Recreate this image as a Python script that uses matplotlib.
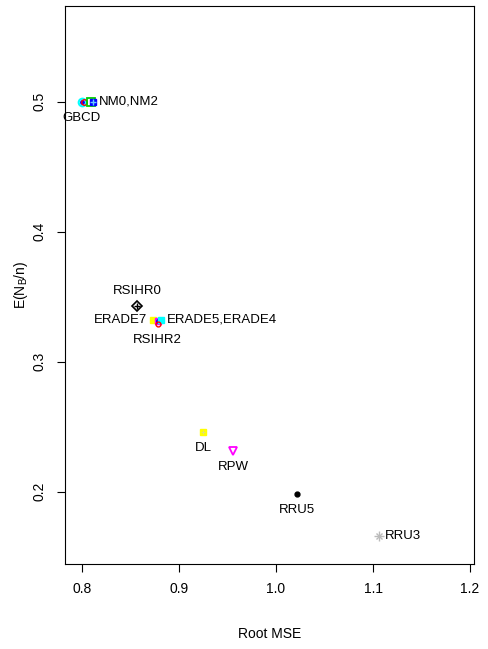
import numpy as np
import matplotlib.pyplot as plt

plt.rcParams['font.family'] = ['Liberation Sans', 'DejaVu Sans']

# Points (one per design)
methods = ['GBCD', 'GBCD', 'GBCD', 'NM0', 'NM2', 'RSIHR0', 'ERADE7', 'ERADE5',
           'ERADE4', 'RSIHR2', 'DL', 'RPW', 'RRU5', 'RRU3']
root_mse = [0.800, 0.800, 0.802, 0.809, 0.811, 0.857, 0.873, 0.878,
            0.881, 0.878, 0.925, 0.956, 1.022, 1.106]
e_nb = [0.500, 0.500, 0.500, 0.500, 0.500, 0.343, 0.332, 0.331,
        0.332, 0.329, 0.246, 0.231, 0.198, 0.166]

# Text labels placed next to groups of points
labels = ['GBCD', 'NM0,NM2', 'RSIHR0', 'ERADE7', 'ERADE5,ERADE4', 'RSIHR2',
          'DL', 'RPW', 'RRU5', 'RRU3']
label_at = ['GBCD', 'NM2', 'RSIHR0', 'ERADE7', 'ERADE4', 'RSIHR2',
            'DL', 'RPW', 'RRU5', 'RRU3']
label_pos = [1, 4, 3, 2, 4, 1, 1, 1, 1, 4]  # R style: 1 below, 2 left, 3 above, 4 right

styles = [
    dict(marker='o', mfc='none', mec='cyan', ms=5.5, mew=1.5),
    dict(marker='o', mfc='blue', mec='blue', ms=2.5),
    dict(marker='o', mfc='none', mec='red', ms=4, mew=1),
    dict(marker='s', mfc='none', mec='#00cc00', ms=5.5, mew=1.3),
    dict(marker='s', mfc='blue', mec='blue', ms=4),
    dict(marker='D', mfc='none', mec='black', ms=5.5, mew=1.2),
    dict(marker='s', mfc='yellow', mec='yellow', ms=5),
    dict(marker='s', mfc='magenta', mec='magenta', ms=5),
    dict(marker='s', mfc='cyan', mec='cyan', ms=4),
    dict(marker='o', mfc='none', mec='red', ms=3.5, mew=1),
    dict(marker='s', mfc='yellow', mec='yellow', ms=5),
    dict(marker='v', mfc='none', mec='magenta', ms=6, mew=1.3),
    dict(marker='o', mfc='black', mec='black', ms=3.5),
    dict(marker='+', mfc='#bbbbbb', mec='#bbbbbb', ms=7, mew=1),
]

fig = plt.figure(figsize=(4.89, 6.49), dpi=100)
ax = fig.add_axes([65 / 489, 85 / 649, 409 / 489, 558 / 649])

for m, x, y, st in zip(methods, root_mse, e_nb, styles):
    ax.plot(x, y, linestyle='none', **st)
    # inner decorations (plus signs inside some markers)
    if m in ('NM2', 'RSIHR0'):
        ax.plot(x, y, linestyle='none', marker='+', ms=4.5, mew=1,
                color='#66ccff' if m == 'NM2' else 'black')
    if m == 'ERADE5':
        ax.plot(x, y, linestyle='none', marker='o', ms=2.5, color='blue')
    if m == 'DL':
        ax.plot(x, y, linestyle='none', marker='+', ms=3, mew=0.6, color='#dddd88')
    if m == 'RRU3':
        ax.plot(x, y, linestyle='none', marker='x', ms=5, mew=1, color='#bbbbbb')

offsets = {1: (0, -16, 'center', 'center'), 2: (-6, 0, 'right', 'center'),
           3: (0, 15, 'center', 'center'), 4: (6, 0, 'left', 'center')}
for lab, at, pos in zip(labels, label_at, label_pos):
    i = methods.index(at)
    dx, dy, ha, va = offsets[pos]
    ax.annotate(lab, (root_mse[i], e_nb[i]), xytext=(dx, dy),
                textcoords='offset pixels', ha=ha, va=va, fontsize=9.5)

ax.set_xlim(0.7825, 1.204)
ax.set_ylim(0.1443, 0.5735)
ax.set_xticks([0.8, 0.9, 1.0, 1.1, 1.2])
ax.set_xticklabels(['0.8', '0.9', '1.0', '1.1', '1.2'])
ax.set_yticks([0.2, 0.3, 0.4, 0.5])
ax.set_yticklabels(['0.2', '0.3', '0.4', '0.5'], rotation=90, va='center')
ax.tick_params(direction='out', length=6, width=0.8, labelsize=10, pad=7)
for s in ax.spines.values():
    s.set_linewidth(0.8)

ax.set_xlabel('Root MSE', fontsize=10, labelpad=22)
ax.set_ylabel(r'E(N$_\mathregular{B}$/n)', fontsize=10, labelpad=2)

fig.savefig('out.png', dpi=100)
